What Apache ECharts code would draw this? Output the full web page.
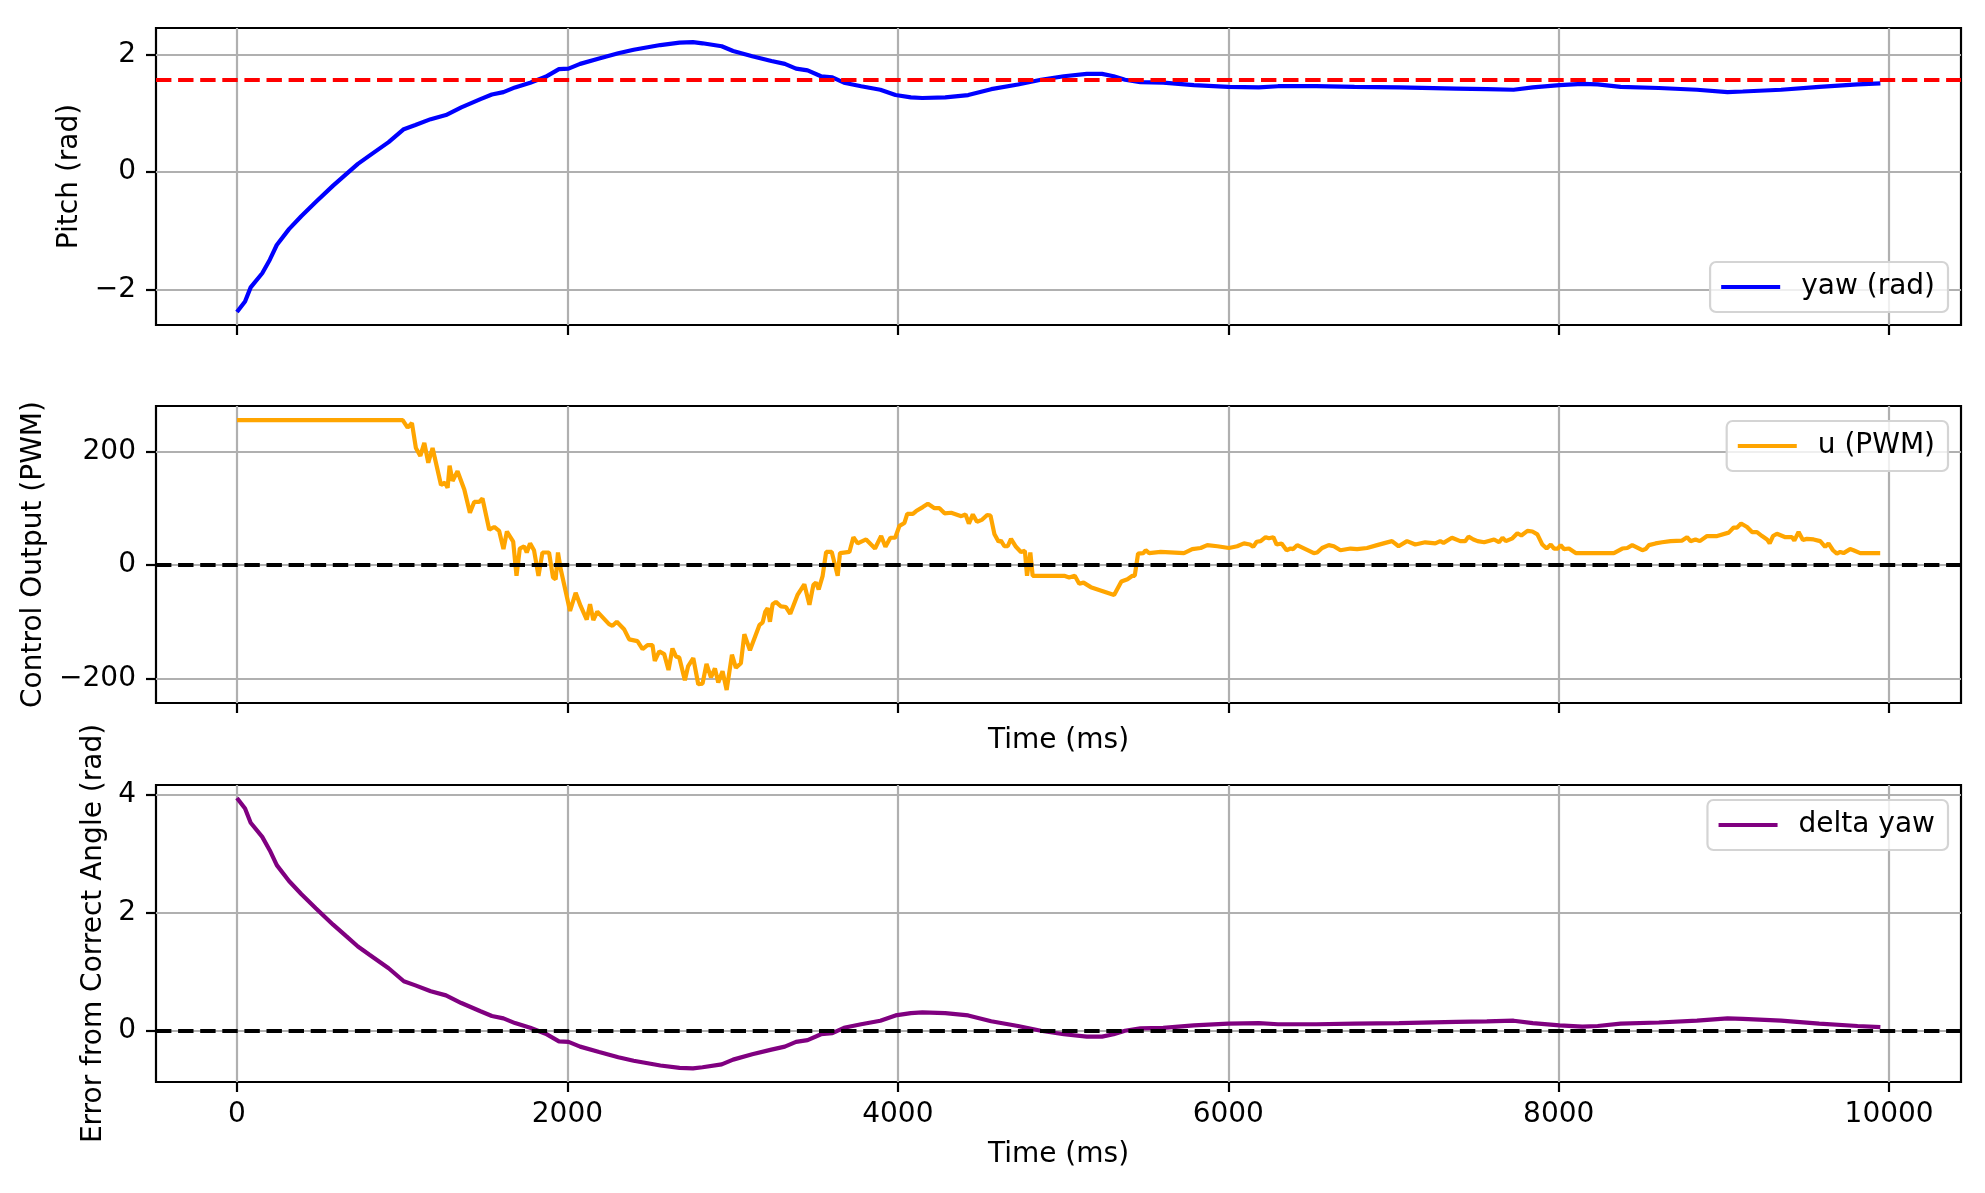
<!DOCTYPE html>
<html lang="en" style="height: 100%">
<head>
  <meta charset="utf-8">
  <title>yaw / u / delta yaw</title>
</head>
<body style="height: 100%; margin: 0; background: #fff">
  <div id="container" style="width: 1985px; height: 1193px"></div>

  <script type="text/javascript" src="https://cdn.jsdelivr.net/npm/echarts/dist/echarts.min.js"></script>
  <script type="text/javascript">
    // yaw (rad) samples, time in ms
    var yawT = [0, 49, 83, 153, 199, 241, 315, 389, 477, 582, 663, 732, 802, 918, 1010, 1080, 1173, 1265, 1358, 1474,
      1543, 1613, 1683, 1775, 1868, 1949, 2007, 2077, 2192, 2308, 2401, 2563, 2679, 2760, 2818, 2934, 3003, 3119, 3235, 3316,
      3384, 3454, 3535, 3604, 3674, 3778, 3894, 3986, 4079, 4148, 4287, 4426, 4565, 4727, 4866, 5005, 5144, 5236, 5306, 5375,
      5468, 5606, 5792, 6000, 6185, 6301, 6532, 6764, 7034, 7380, 7565, 7727, 7843, 8005, 8143, 8236, 8375, 8606, 8837, 9022,
      9114, 9346, 9577, 9809, 9947];
    var yawRad = [-2.38, -2.20, -1.96, -1.72, -1.49, -1.24, -0.97, -0.75, -0.51, -0.23, -0.03, 0.14, 0.28, 0.51, 0.73, 0.80, 0.90, 0.97, 1.10, 1.24,
      1.32, 1.36, 1.44, 1.52, 1.62, 1.75, 1.76, 1.84, 1.93, 2.02, 2.08, 2.16, 2.20, 2.21, 2.19, 2.14, 2.06, 1.97, 1.89, 1.84,
      1.76, 1.73, 1.63, 1.61, 1.52, 1.46, 1.40, 1.31, 1.27, 1.26, 1.27, 1.31, 1.41, 1.49, 1.57, 1.63, 1.67, 1.67, 1.63, 1.57,
      1.53, 1.52, 1.48, 1.45, 1.44, 1.46, 1.46, 1.45, 1.44, 1.42, 1.41, 1.40, 1.44, 1.48, 1.50, 1.49, 1.45, 1.43, 1.40, 1.36,
      1.37, 1.40, 1.45, 1.49, 1.51];
    // delta yaw (rad), same sample times as yaw
    var deltaYaw = [3.95, 3.77, 3.53, 3.29, 3.06, 2.81, 2.54, 2.32, 2.08, 1.80, 1.60, 1.43, 1.29, 1.06, 0.84, 0.77, 0.67, 0.60, 0.47, 0.33,
      0.25, 0.21, 0.13, 0.05, -0.05, -0.18, -0.19, -0.27, -0.36, -0.45, -0.51, -0.59, -0.63, -0.64, -0.62, -0.57, -0.49, -0.40, -0.32, -0.27,
      -0.19, -0.16, -0.06, -0.04, 0.05, 0.11, 0.17, 0.26, 0.30, 0.31, 0.30, 0.26, 0.16, 0.08, 0.00, -0.06, -0.10, -0.10, -0.06, 0.00,
      0.04, 0.05, 0.09, 0.12, 0.13, 0.11, 0.11, 0.12, 0.13, 0.15, 0.16, 0.17, 0.13, 0.09, 0.07, 0.08, 0.12, 0.14, 0.17, 0.21,
      0.20, 0.17, 0.12, 0.08, 0.06];
    var targetYaw = 1.5708;

    // u (PWM) samples
    var uT = [0, 1003, 1033, 1059, 1083, 1110, 1134, 1158, 1184, 1235, 1259, 1275, 1287, 1305, 1335, 1376, 1410, 1436, 1466, 1486,
      1527, 1557, 1587, 1613, 1634, 1672, 1692, 1712, 1738, 1754, 1774, 1798, 1825, 1849, 1889, 1913, 1929, 1943, 1960, 2016,
      2050, 2080, 2117, 2137, 2157, 2181, 2252, 2273, 2299, 2343, 2374, 2424, 2455, 2485, 2515, 2529, 2556, 2586, 2612, 2636,
      2657, 2677, 2711, 2731, 2762, 2792, 2818, 2842, 2869, 2893, 2913, 2939, 2964, 2996, 3020, 3050, 3071, 3105, 3162, 3182,
      3198, 3212, 3226, 3242, 3262, 3293, 3323, 3349, 3394, 3434, 3465, 3489, 3505, 3521, 3545, 3566, 3600, 3636, 3650, 3707,
      3731, 3757, 3808, 3862, 3899, 3925, 3955, 3984, 4010, 4040, 4057, 4091, 4111, 4151, 4182, 4222, 4252, 4283, 4323, 4384,
      4410, 4430, 4454, 4479, 4511, 4541, 4561, 4585, 4610, 4624, 4645, 4665, 4685, 4715, 4745, 4769, 4782, 4802, 4816, 5007,
      5037, 5071, 5098, 5124, 5168, 5309, 5353, 5390, 5420, 5434, 5454, 5486, 5500, 5521, 5591, 5732, 5782, 5833, 5873, 5934,
      6004, 6054, 6095, 6131, 6151, 6172, 6196, 6226, 6246, 6273, 6293, 6323, 6353, 6377, 6393, 6417, 6518, 6538, 6568, 6608,
      6639, 6679, 6740, 6780, 6840, 6901, 6951, 6991, 7031, 7082, 7132, 7192, 7253, 7283, 7303, 7354, 7404, 7434, 7454, 7484,
      7509, 7549, 7609, 7639, 7660, 7680, 7720, 7750, 7774, 7811, 7841, 7871, 7901, 7927, 7952, 7972, 7996, 8012, 8032, 8062,
      8103, 8334, 8385, 8415, 8445, 8506, 8526, 8546, 8586, 8626, 8677, 8747, 8777, 8798, 8828, 8854, 8898, 8959, 9029, 9059,
      9080, 9104, 9140, 9170, 9200, 9231, 9261, 9277, 9297, 9321, 9372, 9412, 9426, 9452, 9478, 9502, 9543, 9583, 9613, 9633,
      9660, 9684, 9704, 9724, 9764, 9784, 9825, 9946];
    var uPwm = [255, 255, 242, 250, 206, 192, 215, 180, 206, 141, 145, 136, 175, 148, 165, 133, 92, 111, 111, 117,
      62, 67, 60, 28, 59, 41, -19, 29, 33, 22, 38, 26, -19, 22, 22, -22, -25, 22, -8, -81,
      -49, -72, -96, -69, -97, -82, -104, -107, -100, -113, -131, -134, -148, -141, -141, -169, -152, -157, -185, -147,
      -161, -163, -203, -178, -164, -210, -209, -174, -198, -182, -207, -187, -220, -158, -181, -173, -122, -150, -106, -101,
      -82, -76, -100, -69, -65, -73, -74, -86, -52, -34, -70, -35, -31, -43, -19, 23, 23, -19, 21, 23,
      49, 38, 45, 29, 51, 32, 48, 48, 69, 74, 90, 90, 95, 102, 108, 100, 100, 91, 92, 86,
      89, 73, 89, 76, 80, 88, 87, 54, 41, 43, 33, 33, 46, 32, 23, 25, -19, 22, -19, -19,
      -22, -19, -33, -31, -39, -53, -29, -25, -19, -19, 20, 21, 26, 21, 23, 21, 28, 30, 35, 33,
      30, 33, 38, 36, 32, 41, 42, 49, 47, 49, 36, 38, 26, 29, 28, 35, 21, 22, 30, 35,
      33, 26, 29, 28, 30, 35, 39, 42, 33, 42, 36, 40, 38, 42, 39, 48, 42, 42, 50, 45,
      42, 40, 45, 40, 48, 42, 47, 56, 52, 60, 59, 54, 36, 29, 36, 29, 29, 35, 28, 29,
      21, 21, 29, 30, 35, 26, 28, 35, 38, 40, 42, 43, 49, 42, 45, 42, 51, 51, 57, 66,
      66, 73, 67, 58, 58, 51, 45, 38, 51, 55, 49, 49, 43, 58, 44, 46, 45, 42, 32, 38,
      26, 20, 23, 21, 28, 26, 21, 21];

    var timeTicks = [0, 2000, 4000, 6000, 8000, 10000];
    var pitchTicks = [-2, 0, 2];
    var pwmTicks = [-200, 0, 200];
    var errTicks = [0, 2, 4];

    function pairs(xs, ys) {
      return xs.map(function (x, i) { return [x, ys[i]]; });
    }
    function fmt(v) {
      return v < 0 ? '\u2212' + Math.abs(v) : String(v);
    }

    var FONT = 'DejaVu Sans';
    var FS = 28;
    var LW = 4.2;

    function xAxisFor(idx, showLabels, name, nameGap) {
      return {
        type: 'value', gridIndex: idx, min: -490, max: 10435,
        axisLine: { show: false, onZero: false },
        axisTick: { show: true, inside: false, length: 10, customValues: timeTicks, lineStyle: { color: '#000', width: 2.2 } },
        axisLabel: { show: showLabels, customValues: timeTicks, margin: 19, color: '#000', fontFamily: FONT, fontSize: FS, formatter: fmt },
        splitLine: { show: true, lineStyle: { color: '#b0b0b0', width: 2.2 } },
        name: name, nameLocation: 'middle', nameGap: nameGap,
        nameTextStyle: { color: '#000', fontFamily: FONT, fontSize: FS }
      };
    }
    function yAxisFor(idx, min, max, ticks, name, nameGap) {
      return {
        type: 'value', gridIndex: idx, min: min, max: max,
        axisLine: { show: false, onZero: false },
        axisTick: { show: true, inside: false, length: 10, customValues: ticks, lineStyle: { color: '#000', width: 2.2 } },
        axisLabel: { customValues: ticks, margin: 20, color: '#000', fontFamily: FONT, fontSize: FS, formatter: fmt },
        splitLine: { show: true, lineStyle: { color: '#b0b0b0', width: 2.2 } },
        name: name, nameLocation: 'middle', nameGap: nameGap, nameRotate: 90,
        nameTextStyle: { color: '#000', fontFamily: FONT, fontSize: FS }
      };
    }
    function hline(value, color) {
      return {
        silent: true, symbol: 'none', label: { show: false },
        lineStyle: { color: color, type: [15.4, 6.7], width: LW },
        data: [{ yAxis: value }]
      };
    }
    function legendFor(name, top) {
      return {
        data: [name], right: 37, top: top,
        orient: 'vertical',
        padding: [11, 13, 11, 9],
        itemWidth: 59, itemHeight: 14,
        backgroundColor: 'rgba(255,255,255,0.8)',
        borderColor: '#d4d4d4', borderWidth: 2.2, borderRadius: 6,
        textStyle: { color: '#000', fontFamily: FONT, fontSize: FS, padding: [0, 0, 0, 16] },
        itemStyle: { opacity: 0 },
        lineStyle: { width: LW }
      };
    }

    var gridBase = { left: 156, right: 24, height: 297, show: true, borderColor: '#000', borderWidth: 2.2, backgroundColor: 'transparent' };

    var dom = document.getElementById('container');
    var myChart = echarts.init(dom, null, { renderer: 'canvas' });
    var option = {
      animation: false,
      backgroundColor: '#fff',
      textStyle: { fontFamily: FONT },
      grid: [
        Object.assign({ top: 28 }, gridBase),
        Object.assign({ top: 406 }, gridBase),
        Object.assign({ top: 785 }, gridBase)
      ],
      xAxis: [
        xAxisFor(0, false, '', 0),
        xAxisFor(1, false, 'Time (ms)', 24),
        xAxisFor(2, true, 'Time (ms)', 59)
      ],
      yAxis: [
        yAxisFor(0, -2.6, 2.45, pitchTicks, 'Pitch (rad)', 70),
        yAxisFor(1, -243, 280, pwmTicks, 'Control Output (PWM)', 107),
        yAxisFor(2, -0.87, 4.17, errTicks, 'Error from Correct Angle (rad)', 48)
      ],
      legend: [
        legendFor('yaw (rad)', 262),
        legendFor('u (PWM)', 421),
        legendFor('delta yaw', 800)
      ],
      series: [
        {
          name: 'yaw (rad)', type: 'line', xAxisIndex: 0, yAxisIndex: 0,
          showSymbol: false, symbol: 'none',
          lineStyle: { color: '#0000ff', width: LW }, itemStyle: { color: '#0000ff' },
          data: pairs(yawT, yawRad),
          markLine: hline(targetYaw, '#ff0000')
        },
        {
          name: 'u (PWM)', type: 'line', xAxisIndex: 1, yAxisIndex: 1,
          showSymbol: false, symbol: 'none',
          lineStyle: { color: '#ffa500', width: LW }, itemStyle: { color: '#ffa500' },
          data: pairs(uT, uPwm),
          markLine: hline(0, '#000000')
        },
        {
          name: 'delta yaw', type: 'line', xAxisIndex: 2, yAxisIndex: 2,
          showSymbol: false, symbol: 'none',
          lineStyle: { color: '#800080', width: LW }, itemStyle: { color: '#800080' },
          data: pairs(yawT, deltaYaw),
          markLine: hline(0, '#000000')
        }
      ]
    };
    myChart.setOption(option);
    window.addEventListener('resize', myChart.resize);
  </script>
</body>
</html>
